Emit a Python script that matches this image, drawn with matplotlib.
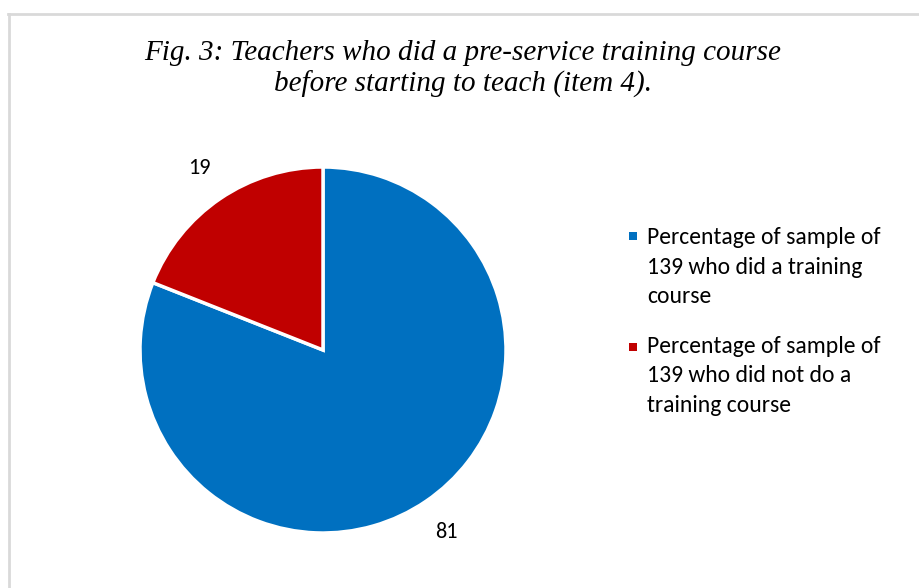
import matplotlib
matplotlib.use("Agg")
import matplotlib.pyplot as plt
from matplotlib.lines import Line2D
from matplotlib.patches import Rectangle

# Pre-service training course share (percent of 139 teachers)
values = [81, 19]
labels = [
    "Percentage of sample of\n139 who did a training\ncourse",
    "Percentage of sample of\n139 who did not do a\ntraining course",
]
colors = ["#0070C0", "#C00000"]
title = "Fig. 3: Teachers who did a pre-service training course\nbefore starting to teach (item 4)."

sans = ["Carlito", "Lato", "DejaVu Sans"]

W, H = 920, 588
fig = plt.figure(figsize=(W / 100, H / 100), dpi=100)

# thin grey frame along the top and left
fig.add_artist(Line2D([8 / W, 1], [1 - 14 / H] * 2, color="#D9D9D9", lw=2))
fig.add_artist(Line2D([8.5 / W] * 2, [0, 1 - 14 / H], color="#D9D9D9", lw=2))

fig.text(463 / W, 1 - 69 / H, title, ha="center", va="center",
         family="Liberation Serif", style="italic", fontsize=21, linespacing=1.25)

cx, cy, r = 323, 350, 183
ax = fig.add_axes([(cx - r) / W, (H - cy - r) / H, 2 * r / W, 2 * r / H])
wedges, texts = ax.pie(values, colors=colors, startangle=90, counterclock=False,
                       labels=[str(v) for v in values], labeldistance=1.2,
                       wedgeprops=dict(edgecolor="white", linewidth=2.5),
                       textprops=dict(family=sans, fontsize=16))
for t in texts:
    t.set_ha("center")
    t.set_va("center")
ax.set_xlim(-1, 1)
ax.set_ylim(-1, 1)
ax.set_aspect("equal")
ax.axis("off")

# legend: square key next to the first line of each wrapped label
for i, (lab, c) in enumerate(zip(labels, colors)):
    key_y = 236 + i * 111
    text_y = 267 + i * 109
    fig.add_artist(Rectangle((629 / W, 1 - (key_y + 4) / H), 8 / W, 8 / H,
                             facecolor=c, edgecolor="none"))
    fig.text(647 / W, 1 - text_y / H, lab, ha="left", va="center",
             family=sans, fontsize=17, linespacing=1.48)

fig.savefig("out.png", dpi=100)
